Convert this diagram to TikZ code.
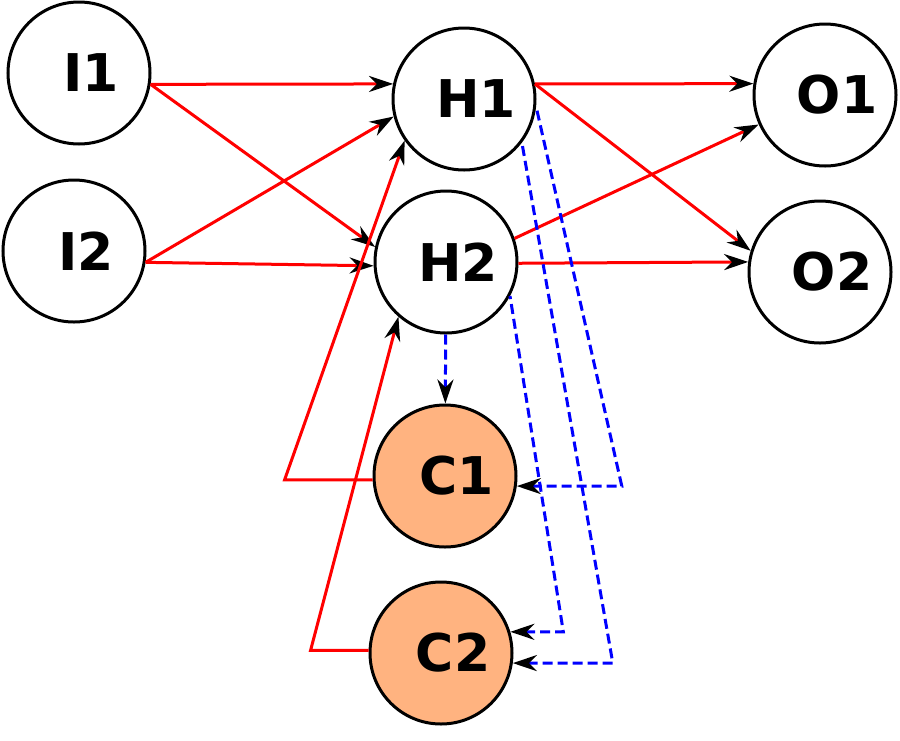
\documentclass[tikz,border=0pt]{standalone}
\usepackage{fontspec}
\setmainfont{DejaVu Sans}
\usetikzlibrary{arrows.meta}
\definecolor{ctxfill}{RGB}{255,179,128}

\begin{document}
\begin{tikzpicture}[x=0.5pt, y=-0.5pt,
    >={Stealth[black, length=12pt, width=8pt]},
    neuron/.style={circle, draw, line width=1.5pt, minimum size=71pt, fill=white,
      label={[xshift=6pt, font=\bfseries\fontsize{26}{30}\selectfont]center:#1}},
    context/.style={neuron=#1, fill=ctxfill},
    fwd/.style={draw=red, line width=1.5pt},
    rec/.style={draw=blue, line width=1.5pt, dash pattern=on 5pt off 2.5pt}]
    \path[use as bounding box, fill=white] (0,0) rectangle (900,740);

    \node[neuron=I1] (i1) at (79,73) {};
    \node[neuron=I2] (i2) at (74,251) {};
    \node[neuron=H1] (h1) at (464,99) {};
    \node[neuron=H2] (h2) at (446,262) {};
    \node[neuron=O1] (o1) at (825,95) {};
    \node[neuron=O2] (o2) at (820,272) {};
    \node[context=C1] (c1) at (445,476) {};
    \node[context=C2] (c2) at (441,653) {};

    \draw[fwd, ->] (i1.-9) -- (h1.168);
    \draw[fwd, ->] (i1.-9) -- (h2.168);
    \draw[fwd, ->] (i2.-9) -- (h1.194);
    \draw[fwd, ->] (i2.-9) -- (h2.183);
    \draw[fwd, ->] (h1.12) -- (o1.171);
    \draw[fwd, ->] (h1.12) -- (o2.163);
    \draw[fwd, ->] (h2.19) -- (o1.204);
    \draw[fwd, ->] (h2.-1) -- (o2.172);
    \draw[fwd, ->] (c1.183) -- ++(-88,0) -- (h1.215);
    \draw[fwd, ->] (c2.178) -- ++(-58,0) -- (h2.229);

    \draw[rec, ->] (h2) -- (c1);
    \draw[rec, <-] (c1.-8) -- ++(105,0) -- (h1.-6);
    \draw[rec, <-] (c2.17) -- ++(53,0) -- (h2.-28);
    \draw[rec, <-] (c2.-8) -- ++(100,0) -- (h1.-37);
  \end{tikzpicture}
\end{document}
